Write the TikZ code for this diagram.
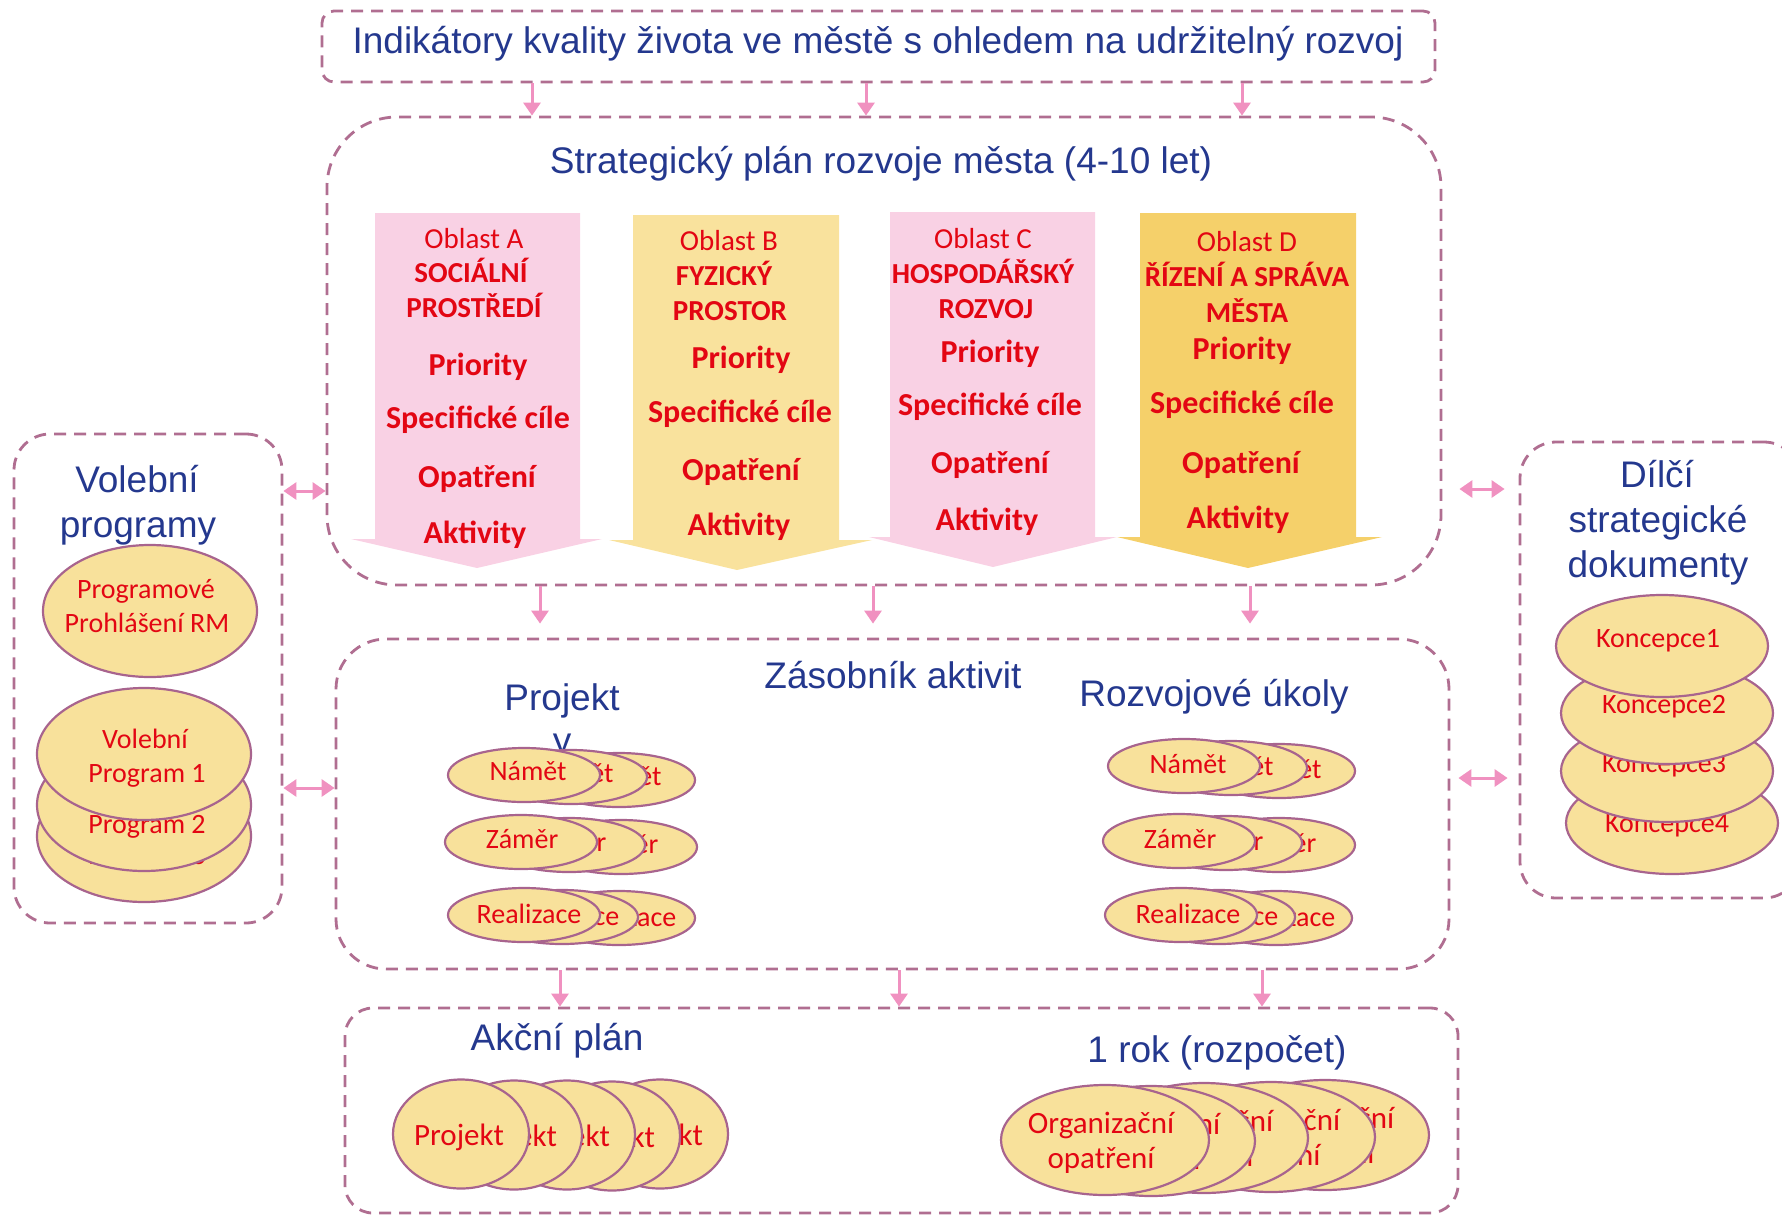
\documentclass[tikz,border=0pt]{standalone}
\usepackage{fontspec}
\newfontfamily\arialf{Liberation Sans}
\newfontfamily\calf{Carlito}
\usetikzlibrary{shapes.geometric,arrows.meta}
\definecolor{navy}{RGB}{36,56,142}
\definecolor{redc}{RGB}{227,6,19}
\definecolor{mauve}{RGB}{176,110,145}
\definecolor{apink}{RGB}{240,145,192}
\definecolor{pinkf}{RGB}{249,209,228}
\definecolor{yelf}{RGB}{249,226,157}
\definecolor{yeld}{RGB}{245,208,106}
\definecolor{ellf}{RGB}{248,225,155}
\definecolor{elld}{RGB}{168,100,142}
\begin{document}
\begin{tikzpicture}[x=1pt,y=-1pt,
 dbox/.style={draw=mauve, line width=2.8pt, dash pattern=on 12pt off 8pt, inner sep=0pt},
 hdr/.style={font=\arialf\fontsize{37}{44}\selectfont, text=navy, inner sep=0pt, anchor=base},
 rtx/.style={font=\calf\fontsize{28}{34}\selectfont, text=redc, inner sep=0pt, anchor=base},
 rtl/.style={font=\calf\fontsize{31}{36}\selectfont, text=redc, inner sep=0pt, anchor=base},
 rto/.style={font=\calf\fontsize{29}{34}\selectfont, text=redc, inner sep=0pt, anchor=base},
 rtb/.style={font=\calf\bfseries\fontsize{29}{34}\selectfont, text=redc, inner sep=0pt, anchor=base},
 rti/.style={font=\calf\bfseries\fontsize{32}{37}\selectfont, text=redc, inner sep=0pt, anchor=base},
 ell/.style={ellipse, draw=elld, fill=ellf, line width=2.2pt, inner sep=0pt},
 sell/.style={ell, minimum width=152pt, minimum height=54pt},
 conn/.style={draw=apink, line width=3pt, -{Triangle[length=13pt,width=17pt]}},
 dconn/.style={draw=apink, line width=3pt, {Triangle[length=13pt,width=17pt]}-{Triangle[length=13pt,width=17pt]}},
]
\useasboundingbox (0,0) rectangle (1782,1216);
\clip (0,0) rectangle (1782,1216);

% ---- boxes ----
\node[dbox, rounded corners=12pt, minimum width=1113pt, minimum height=71pt] (ind) at (878.5,46.5) {};
\node[dbox, rounded corners=70pt, minimum width=1114pt, minimum height=468pt] (strat) at (884,351) {};
\node[dbox, rounded corners=36pt, minimum width=268pt, minimum height=489pt] (vol) at (148,678.5) {};
\node[dbox, rounded corners=50pt, minimum width=1113pt, minimum height=330pt] (zas) at (892.5,804) {};
\node[dbox, rounded corners=28pt, minimum width=1113pt, minimum height=205pt] (akc) at (901.5,1110.5) {};
\node[dbox, rounded corners=36pt, minimum width=280pt, minimum height=456pt] (dil) at (1660,670) {};

% ---- headers ----
\node[hdr] (tind) at (878,53) {Indikátory kvality života ve městě s ohledem na udržitelný rozvoj};
\node[hdr] (tstrat) at (881,173) {Strategický plán rozvoje města (4-10 let)};
\node[hdr] (tvol1) at (137,492) {Volební};
\node[hdr] (tvol2) at (138,537) {programy};
\node[hdr] (tdil1) at (1657,487) {Dílčí};
\node[hdr] (tdil2) at (1658,532) {strategické};
\node[hdr] (tdil3) at (1658,577) {dokumenty};
\node[hdr] (tzas) at (893,688) {Zásobník aktivit};
\node[hdr] (trozv) at (1214,706) {Rozvojové úkoly};
\node[hdr] (tproj1) at (562,710) {Projekt};
\node[hdr] (tproj2) at (562,753) {y};
\node[hdr] (takc) at (557,1050) {Akční plán};
\node[hdr] (trok) at (1217,1062) {1 rok (rozpočet)};

% ---- connectors ----
\coordinate (a1) at (532,0); \coordinate (a2) at (866,0); \coordinate (a3) at (1242,0);
\coordinate (b1) at (540,0); \coordinate (b2) at (873,0); \coordinate (b3) at (1250,0);
\coordinate (c1) at (560,0); \coordinate (c2) at (899,0); \coordinate (c3) at (1262,0);
\coordinate (l1) at (0,491); \coordinate (l2) at (0,788);
\coordinate (r1) at (0,489); \coordinate (r2) at (0,778);
\draw[conn] (a1 |- ind.south) -- (a1 |- strat.north);
\draw[conn] (a2 |- ind.south) -- (a2 |- strat.north);
\draw[conn] (a3 |- ind.south) -- (a3 |- strat.north);
\draw[conn, shorten >=14pt] (b1 |- strat.south) -- (b1 |- zas.north);
\draw[conn, shorten >=14pt] (b2 |- strat.south) -- (b2 |- zas.north);
\draw[conn, shorten >=14pt] (b3 |- strat.south) -- (b3 |- zas.north);
\draw[conn] (c1 |- zas.south) -- (c1 |- akc.north);
\draw[conn] (c2 |- zas.south) -- (c2 |- akc.north);
\draw[conn] (c3 |- zas.south) -- (c3 |- akc.north);
\draw[dconn] (vol.east |- l1) -- (strat.west |- l1);
\draw[dconn] (vol.east |- l2) -- (zas.west |- l2);
\draw[dconn, shorten <=17pt, shorten >=14pt] (strat.east |- r1) -- (dil.west |- r1);
\draw[dconn, shorten <=8pt, shorten >=11pt] (zas.east |- r2) -- (dil.west |- r2);

% ---- block arrows ----
\fill[pinkf] (375,213) -- (580,213) -- (580,539) -- (602,539) -- (477,568) -- (351,539) -- (375,539) -- cycle;
\fill[yelf] (633,215) -- (839,215) -- (839,540) -- (872,540) -- (737,570) -- (609,540) -- (633,540) -- cycle;
\fill[pinkf] (890,212) -- (1095,212) -- (1095,537) -- (1117,537) -- (993,567) -- (869,537) -- (890,537) -- cycle;
\fill[yeld] (1140,213) -- (1356,213) -- (1356,537) -- (1382,537) -- (1248,568) -- (1117,537) -- (1140,537) -- cycle;

\node[rto] (oa0) at (474,248) {Oblast A};
\node[rtb] (oa1) at (471,282) {SOCIÁLNÍ};
\node[rtb] (oa2) at (474,317) {PROSTŘEDÍ};
\node[rti] (oa3) at (478,375) {Priority};
\node[rti] (oa4) at (478,428) {Specifické cíle};
\node[rti] (oa5) at (477,487) {Opatření};
\node[rti] (oa6) at (475,543) {Aktivity};

\node[rto] (ob0) at (729,250) {Oblast B};
\node[rtb] (ob1) at (724,285) {FYZICKÝ};
\node[rtb] (ob2) at (730,320) {PROSTOR};
\node[rti] (ob3) at (741,368) {Priority};
\node[rti] (ob4) at (740,422) {Specifické cíle};
\node[rti] (ob5) at (741,480) {Opatření};
\node[rti] (ob6) at (739,535) {Aktivity};

\node[rto] (oc0) at (983,248) {Oblast C};
\node[rtb] (oc1) at (983,283) {HOSPODÁŘSKÝ};
\node[rtb] (oc2) at (986,318) {ROZVOJ};
\node[rti] (oc3) at (990,362) {Priority};
\node[rti] (oc4) at (990,415) {Specifické cíle};
\node[rti] (oc5) at (990,473) {Opatření};
\node[rti] (oc6) at (987,530) {Aktivity};

\node[rto] (od0) at (1247,251) {Oblast D};
\node[rtb] (od1) at (1247,286) {ŘÍZENÍ A SPRÁVA};
\node[rtb] (od2) at (1247,322) {MĚSTA};
\node[rti] (od3) at (1242,359) {Priority};
\node[rti] (od4) at (1242,413) {Specifické cíle};
\node[rti] (od5) at (1241,473) {Opatření};
\node[rti] (od6) at (1238,528) {Aktivity};

% ---- Volební programy ----
\node[ell, minimum width=214pt, minimum height=132pt] (pp) at (150,611) {};
\node[rtx] (pp1) at (146,598) {Programové};
\node[rtx] (pp2) at (147,632) {Prohlášení RM};
\node[ell, minimum width=214pt, minimum height=132pt] (v3) at (144,836) {};
\node[rtx] (v3a) at (145,830) {Volební};
\node[rtx] (v3b) at (147,864) {Program 3};
\node[ell, minimum width=214pt, minimum height=132pt] (v2) at (144,805) {};
\node[rtx] (v2a) at (145,799) {Volební};
\node[rtx] (v2b) at (147,833) {Program 2};
\node[ell, minimum width=214pt, minimum height=132pt] (v1) at (144,754) {};
\node[rtx] (v1a) at (145,748) {Volební};
\node[rtx] (v1b) at (147,782) {Program 1};

% ---- Koncepce ----
\node[ell, minimum width=212pt, minimum height=102pt] (k4) at (1672,823) {};
\node[rtx] (k4t) at (1667,832) {Koncepce4};
\node[ell, minimum width=212pt, minimum height=102pt] (k3) at (1667,771) {};
\node[rtx] (k3t) at (1664,772) {Koncepce3};
\node[ell, minimum width=212pt, minimum height=102pt] (k2) at (1667,713) {};
\node[rtx] (k2t) at (1664,713) {Koncepce2};
\node[ell, minimum width=212pt, minimum height=102pt] (k1) at (1662,646) {};
\node[rtx] (k1t) at (1658,647) {Koncepce1};

% ---- Projekty group ----
\node[sell] (pn3) at (619,780) {}; \node[rtx] (pn3t) at (623,785) {Námět};
\node[sell] (pn2) at (571,777) {}; \node[rtx] (pn2t) at (575,782) {Námět};
\node[sell] (pn1) at (524,775) {}; \node[rtx] (pn1t) at (528,780) {Námět};
\node[sell] (pz3) at (621,847) {}; \node[rtx] (pz3t) at (622,853) {Záměr};
\node[sell] (pz2) at (569,845) {}; \node[rtx] (pz2t) at (570,851) {Záměr};
\node[sell] (pz1) at (521,842) {}; \node[rtx] (pz1t) at (522,848) {Záměr};
\node[sell] (pr3) at (619,918) {}; \node[rtx] (pr3t) at (624,926) {Realizace};
\node[sell] (pr2) at (562,917) {}; \node[rtx] (pr2t) at (567,925) {Realizace};
\node[sell] (pr1) at (524,915) {}; \node[rtx] (pr1t) at (529,923) {Realizace};

% ---- Rozvojové úkoly group ----
\node[sell] (rn3) at (1279,771) {}; \node[rtx] (rn3t) at (1283,778) {Námět};
\node[sell] (rn2) at (1231,768) {}; \node[rtx] (rn2t) at (1235,775) {Námět};
\node[sell] (rn1) at (1184,766) {}; \node[rtx] (rn1t) at (1188,773) {Námět};
\node[sell] (rz3) at (1279,845) {}; \node[rtx] (rz3t) at (1280,852) {Záměr};
\node[sell] (rz2) at (1226,843) {}; \node[rtx] (rz2t) at (1227,850) {Záměr};
\node[sell] (rz1) at (1179,841) {}; \node[rtx] (rz1t) at (1180,848) {Záměr};
\node[sell] (rr3) at (1276,918) {}; \node[rtx] (rr3t) at (1283,926) {Realizace};
\node[sell] (rr2) at (1219,917) {}; \node[rtx] (rr2t) at (1226,925) {Realizace};
\node[sell] (rr1) at (1181,915) {}; \node[rtx] (rr1t) at (1188,923) {Realizace};

% ---- Akční plán projects ----
\node[ell, minimum width=136pt, minimum height=109pt] (ap5) at (660,1134) {}; \node[rtl] (ap5t) at (658,1145) {Projekt};
\node[ell, minimum width=136pt, minimum height=109pt] (ap4) at (612,1136) {}; \node[rtl] (ap4t) at (610,1147) {Projekt};
\node[ell, minimum width=136pt, minimum height=109pt] (ap3) at (567,1135) {}; \node[rtl] (ap3t) at (565,1146) {Projekt};
\node[ell, minimum width=136pt, minimum height=109pt] (ap2) at (514,1135) {}; \node[rtl] (ap2t) at (512,1146) {Projekt};
\node[ell, minimum width=136pt, minimum height=109pt] (ap1) at (461,1134) {}; \node[rtl] (ap1t) at (459,1145) {Projekt};

% ---- Organizační opatření ----
\node[ell, minimum width=208pt, minimum height=110pt] (oo5) at (1325,1135) {};
\node[rtl] (oo5a) at (1321,1128) {Organizační}; \node[rtl] (oo5b) at (1321,1163) {opatření};
\node[ell, minimum width=208pt, minimum height=110pt] (oo4) at (1271,1137) {};
\node[rtl] (oo4a) at (1267,1130) {Organizační}; \node[rtl] (oo4b) at (1267,1165) {opatření};
\node[ell, minimum width=208pt, minimum height=110pt] (oo3) at (1204,1138) {};
\node[rtl] (oo3a) at (1200,1131) {Organizační}; \node[rtl] (oo3b) at (1200,1166) {opatření};
\node[ell, minimum width=208pt, minimum height=110pt] (oo2) at (1151,1141) {};
\node[rtl] (oo2a) at (1147,1134) {Organizační}; \node[rtl] (oo2b) at (1147,1169) {opatření};
\node[ell, minimum width=208pt, minimum height=110pt] (oo1) at (1105,1140) {};
\node[rtl] (oo1a) at (1101,1133) {Organizační}; \node[rtl] (oo1b) at (1101,1168) {opatření};
\end{tikzpicture}
\end{document}
